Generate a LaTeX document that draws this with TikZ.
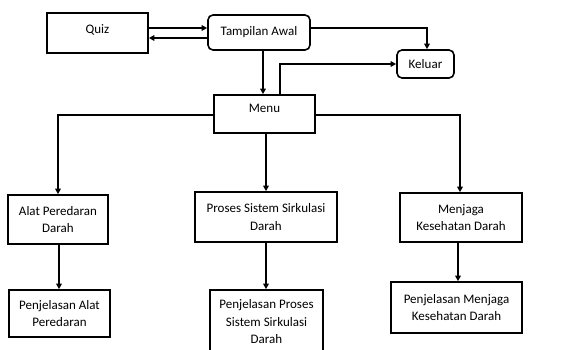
\documentclass[tikz,border=0pt]{standalone}
\usepackage{fontspec}
\setmainfont{Carlito}
\usetikzlibrary{arrows.meta,positioning}

\begin{document}
\begin{tikzpicture}[
  x=1pt,y=-1pt,
  box/.style={draw,line width=1.6pt,inner sep=1pt,
    font=\fontsize{13}{17.5}\selectfont,align=center},
  rbox/.style={box,rounded corners=5pt},
  arr/.style={-{Triangle[length=5.5pt,width=5.5pt]},line width=1.6pt}
]
  \useasboundingbox (0,0) rectangle (568,349);
  \clip (0,0) rectangle (568,349);
  % Top
  \node[box,minimum width=101pt,minimum height=40pt,text depth=8pt] (quiz) at (97.5,33) {Quiz};
  \node[rbox,minimum width=102pt,minimum height=35pt] (awal) at (259,32.5) {Tampilan Awal};
  \node[rbox,minimum width=57pt,minimum height=28pt] (keluar) at (425.5,64) {Keluar};
  % Menu
  \node[box,minimum width=101pt,minimum height=38pt,text depth=12pt] (menu) at (264.5,114) {Menu};
  % Sub menus
  \node[box,minimum width=100pt,minimum height=49pt] (alat) at (58,219.5) {Alat Peredaran\\Darah};
  \node[box,minimum width=142pt,minimum height=50pt] (proses) at (266,217) {Proses Sistem Sirkulasi\\Darah};
  \node[box,minimum width=122pt,minimum height=49pt] (menjaga) at (461,217.5) {Menjaga\\Kesehatan Darah};
  % Penjelasan
  \node[box,minimum width=101pt,minimum height=47pt] (palat) at (59.5,313.5) {Penjelasan Alat\\Peredaran};
  \node[box,minimum width=113pt,minimum height=64pt] (pproses) at (266.5,322) {Penjelasan Proses\\Sistem Sirkulasi\\Darah};
  \node[box,minimum width=131pt,minimum height=51pt] (pmenjaga) at (456.5,307.5) {Penjelasan Menjaga\\Kesehatan Darah};
  % Arrows
  \draw[arr] ([yshift=5pt]quiz.east) -- ([yshift=5pt]quiz.east -| awal.west);
  \draw[arr] ([yshift=-5pt]quiz.east -| awal.west) -- ([yshift=-5pt]quiz.east);
  \draw[arr] ([yshift=4.5pt]awal.east) -| ([xshift=1.5pt]keluar.north);
  \draw[arr] ([xshift=4pt]awal.south) -- ([xshift=4pt]awal.south |- menu.north);
  \draw[arr] ([xshift=15.5pt]menu.north) |- (keluar.west);
  \draw[arr] ([yshift=-1pt]menu.west) -| (alat.north);
  \draw[arr] ([yshift=-1pt]menu.east) -| ([xshift=-1pt]menjaga.north);
  \draw[arr] (menu.south -| proses.north) -- (proses.north);
  \draw[arr] ([xshift=1pt]alat.south) -- ([xshift=1pt]alat.south |- palat.north);
  \draw[arr] (proses.south) -- (proses.south |- pproses.north);
  \draw[arr] ([xshift=-3pt]menjaga.south) -- ([xshift=-3pt]menjaga.south |- pmenjaga.north);
\end{tikzpicture}
\end{document}
